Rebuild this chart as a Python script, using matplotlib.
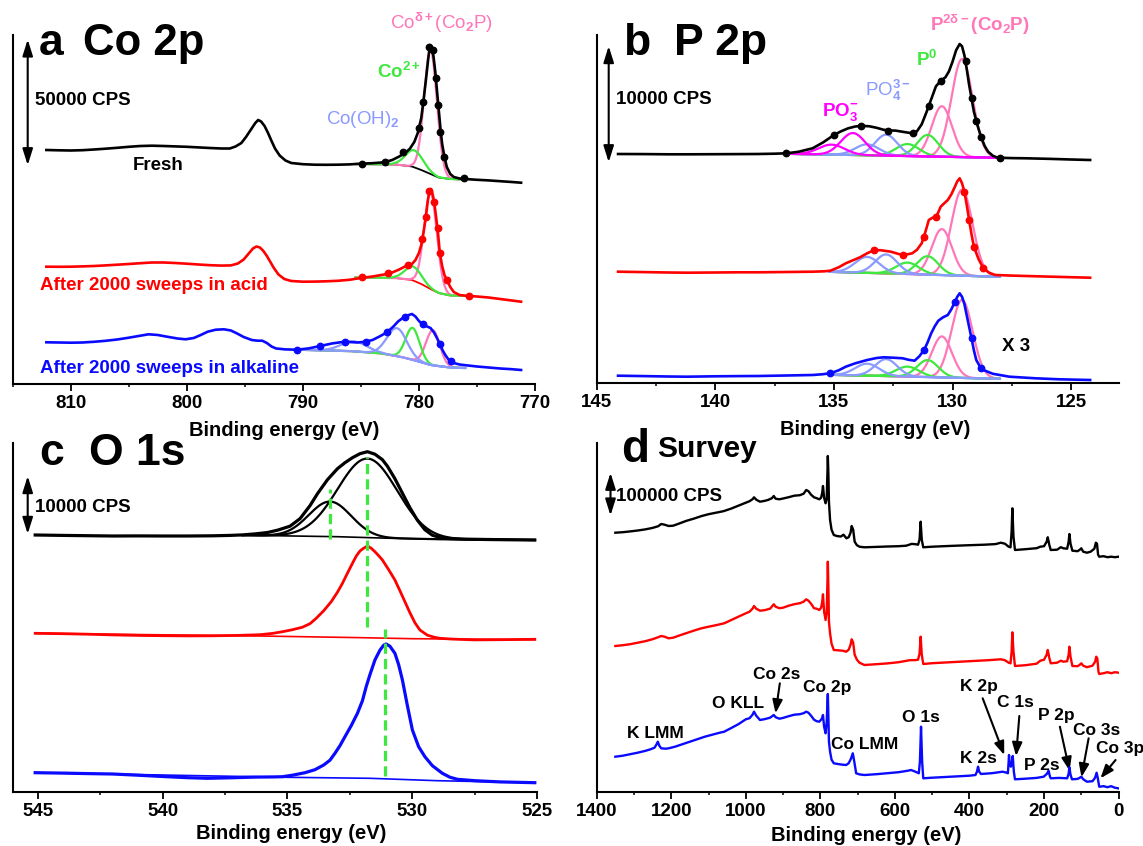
import numpy as np
import matplotlib
matplotlib.use("Agg")
import matplotlib.pyplot as plt
from matplotlib.patches import FancyArrowPatch
from matplotlib.ticker import MultipleLocator, FixedLocator

plt.rcParams['font.family'] = ['Liberation Sans', 'DejaVu Sans']
plt.rcParams['font.weight'] = 'bold'
plt.rcParams['mathtext.fontset'] = 'custom'
plt.rcParams['mathtext.rm'] = 'Liberation Sans'
plt.rcParams['mathtext.bf'] = 'Liberation Sans:bold'
plt.rcParams['mathtext.it'] = 'Liberation Sans:italic'

# ---------------- colours ----------------
C_BLACK = '#000000'
C_RED = '#ff0000'
C_BLUE = '#0a0aff'
C_PINK = '#ff77b9'
C_GREEN = '#3fe83f'
C_LAV = '#8a9aff'
C_MAG = '#ff00ff'

# ================= Panel a : Co 2p (binding energy eV, intensity a.u.) =================
a_fresh_be = [812.1, 811, 810, 809, 808, 807, 806, 805, 804, 803, 802, 801, 800, 799, 798, 797, 796.3,
              795.8, 795.3, 794.9, 794.5, 794.1, 793.85, 793.6, 793.3, 793.0, 792.7, 792.4, 792.0,
              791.5, 791.0, 790, 789, 788, 787, 786, 785, 784, 783, 782.3, 781.7, 781.2, 780.8,
              780.4, 780.1, 779.8, 779.6, 779.4, 779.2, 779.05, 778.9, 778.75, 778.6, 778.45, 778.3,
              778.15, 778.0, 777.8, 777.6, 777.3, 777.0, 776.5, 776, 775, 774, 773, 772, 771.2]
a_fresh_h = [234, 233.7, 233.5, 233.8, 234.5, 235.3, 236.2, 237.2, 238, 238.3, 238, 237.6, 237.2, 236.6,
             236, 235.5, 235.5, 237.5, 241, 247, 254, 261, 264, 262.5, 258, 251, 243, 235.5, 228.5,
             223.5, 221, 219.8, 219.3, 219.2, 219.3, 219.6, 220.3, 220.8, 221.7, 224, 227.5, 231, 235,
             242, 251, 266, 284, 304, 325, 339, 337, 328, 313, 294, 275,
             256, 240, 227, 217, 210, 207, 205.5, 205, 204.2, 203.6, 202.8, 202, 201.3]
a_acid_be = [812.1, 811, 810, 809, 808, 807, 806, 805, 804, 803, 802, 801, 800, 799, 798, 797, 796.2,
             795.6, 795.1, 794.7, 794.3, 794.0, 793.7, 793.4, 793.1, 792.8, 792.5, 792.1, 791.6, 791,
             790, 789, 788, 787, 786, 785, 784, 783, 782.3, 781.7, 781.2, 780.9, 780.6, 780.3, 780.0,
             779.8, 779.6, 779.4, 779.25, 779.1, 778.95, 778.8, 778.65, 778.5, 778.35, 778.2, 778.0,
             777.8, 777.6, 777.3, 777.0, 776.5, 776, 775, 774, 773, 772, 771.2]
a_acid_h = [117.3, 117.2, 117.3, 117.6, 118, 118.6, 119.3, 120, 120.8, 121.5, 121.5, 121, 120.3, 119.5,
            118.8, 118.4, 118.6, 120.5, 124.5, 130, 135.5, 137.5, 136.5, 133, 128, 122, 116, 109.5,
            105, 103, 102.3, 102.4, 102.7, 103.2, 104.2, 106, 107.5, 109.5, 111.5, 114.5, 117.5,
            119, 120, 124, 131, 139, 152, 167, 182, 193, 195, 189, 179, 165, 150, 131, 118,
            109, 104, 97, 92, 89, 88.3, 87.5, 86.5, 85, 83.5, 82.3]
a_alk_be = [812.1, 811, 810, 809, 808, 807, 806, 805, 804, 803.3, 802.5, 801.7, 800.8, 800.1, 799.4,
            798.8, 798.2, 797.5, 796.8, 796.2, 795.7, 795.1, 794.4, 793.9, 793.5, 793.1, 792.7,
            792.3, 791.5, 790.5, 789.5, 788.5, 787.5, 786.6, 786.0, 785.3, 784.6, 784.0, 783.4,
            782.75, 782.2, 781.8, 781.4, 781.0, 780.6, 780.3, 780.0, 779.65, 779.3, 779.0, 778.7,
            778.45, 778.2, 777.95, 777.7, 777.45, 777.25, 777.0, 776.5, 776, 775, 774, 773, 772, 771.2]
a_alk_h = [41.7, 41.5, 41.3, 41.5, 42.2, 43.2, 44.5, 46.3, 48.3, 49.7, 49, 47.3, 45.5, 44.7, 46,
           49, 52.3, 54.3, 54.7, 53.5, 50.7, 47, 44, 43.3, 43.3, 41, 37.5,
           35.5, 34.6, 34.3, 35.6, 38, 40.5, 42, 42, 41.5, 42.3, 44, 47.5,
           51.7, 57.5, 62.5, 66, 68.5, 70, 67.5, 63, 59.5, 57.5, 56, 51.5,
           46, 40, 33.5, 28.5, 24.5, 22.5, 21, 19.5, 18.8, 17.5, 16.5, 15.5, 14.8, 14]

a_fresh_dot_be = [784.9, 782.9, 781.4, 780.0, 779.65, 779.1, 778.8, 778.55, 778.35, 778.2, 777.8, 776.1]
a_fresh_dot_h = [220, 221.7, 232.3, 255.7, 282.3, 337.3, 334, 305.7, 279, 252.3, 227.3, 206.3]
a_acid_dot_be = [784.9, 782.7, 780.9, 779.7, 779.4, 779.1, 778.7, 778.4, 778.2, 777.6, 775.7]
a_acid_dot_h = [106.7, 110.7, 119, 145, 167, 193, 182.3, 155.7, 131, 104, 88]
a_alk_dot_be = [790.5, 788.5, 786.35, 784.6, 782.75, 781.2, 779.65, 778.2, 777.25]
a_alk_dot_h = [34.3, 38, 41.7, 42.3, 51.7, 67.3, 59.5, 40, 22.5]

# backgrounds (Shirley) of the fits
a_fresh_bg_be = [785.5, 782.0, 780.6, 779.8, 779.0, 778.3, 777.3, 776.0]
a_fresh_bg_h = [220, 219.5, 217.5, 214, 210, 206.5, 205, 204.5]
a_acid_bg_be = [785.5, 782.0, 780.6, 779.8, 779.0, 778.3, 777.3, 775.5]
a_acid_bg_h = [106.5, 106, 104, 100, 95, 91, 88.5, 88]
a_alk_bg_be = [790.5, 786.0, 783.3, 781.5, 780.5, 779.0, 777.7, 777.0, 776.0]
a_alk_bg_h = [34.3, 33, 30.7, 27, 24, 19, 17, 16.3, 16]

# fitted components: centre (eV), height above background, FWHM (eV), species
a_fresh_cen = [779.0, 780.4]
a_fresh_amp = [124, 17]
a_fresh_fw = [1.3, 1.8]
a_fresh_sp = ['Co2P', 'Co2+']
a_acid_cen = [779.0, 780.5]
a_acid_amp = [96, 14]
a_acid_fw = [1.3, 1.7]
a_acid_sp = ['Co2P', 'Co2+']
a_alk_cen = [778.8, 780.55, 781.9, 785.6]
a_alk_amp = [35, 32, 28, 10]
a_alk_fw = [1.4, 1.4, 2.0, 2.6]
a_alk_sp = ['Co2P', 'Co2+', 'CoOH', 'CoOH']

# ================= Panel b : P 2p =================
b_fresh_be = [144.1, 143, 142, 141, 140, 139, 138.2, 137.5, 137.0, 136.5, 135.9, 135.45, 135.0, 134.7,
              134.4, 134.1, 133.85, 133.5, 133.2, 132.9, 132.6, 132.4, 132.1, 131.7, 131.5, 131.3,
              131.1, 130.9, 130.7, 130.5, 130.3, 130.15, 130.0, 129.85, 129.7, 129.6, 129.5, 129.4,
              129.3, 129.2, 129.1, 128.95, 128.8, 128.65, 128.5, 128.3, 128.1, 127.5, 126.9, 126,
              125, 124.2]
b_fresh_h = [229.3, 229.2, 229, 229, 229.1, 229.2, 229.3, 229.6, 230, 231.5, 235, 241, 248.3, 252,
             255, 256.8, 257.5, 257, 255.5, 253.5, 252.8, 252.7, 251.5, 250, 252, 259,
             271, 284, 297, 302.5, 306, 312, 321.6, 333, 339.3, 337, 328, 314,
             298.3, 285, 271.6, 258, 246.6, 237.5, 231.6, 227.5, 225.6, 225.2, 225, 224.5,
             223.8, 223.3]
b_acid_be = [144.1, 143, 142, 141.2, 140, 139, 138.2, 137, 135.9, 135.4, 135.15, 134.8, 134.5, 134.2,
             133.9, 133.6, 133.3, 133.0, 132.6, 132.3, 132.1, 131.9, 131.7, 131.5, 131.3, 131.15,
             131.0, 130.85, 130.7, 130.6, 130.5, 130.35, 130.2, 130.05, 129.9, 129.8, 129.7, 129.6,
             129.5, 129.4, 129.3, 129.2, 129.1, 128.9, 128.7, 128.45, 128.2, 127.5, 126.9, 125.5, 124.2]
b_acid_h = [111.6, 111.2, 110.8, 110.6, 110.8, 111, 111, 111.3, 111.6, 112, 112.6, 116, 120, 123,
            126, 130, 133.3, 133, 131.6, 129.5, 128.3, 129, 130, 133.5, 140, 151,
            163.3, 165.5, 166.6, 171, 176.6, 180, 183.3, 189, 196.6, 202, 205, 200,
            191.6, 178, 163.3, 149, 136.6, 124, 115, 110.5, 108.3, 107.7, 107.3, 106.4, 105.6]
b_alk_be = [144.1, 143, 142, 141.2, 140, 139, 138.2, 137, 135.9, 135.5, 135.15, 134.8, 134.5, 134.1,
            133.6, 133.2, 132.9, 132.5, 132.1, 131.85, 131.6, 131.4, 131.2, 131.05, 130.9, 130.75,
            130.6, 130.4, 130.2, 130.05, 129.9, 129.8, 129.7, 129.6, 129.5, 129.35, 129.2, 129.1,
            129.0, 128.85, 128.7, 128.3, 127.6, 126.5, 125.5, 124.2]
b_alk_h = [7.6, 7.2, 6.8, 6.6, 7, 7.2, 7.3, 7.8, 8.3, 9, 10, 13, 16.6, 20,
           23.3, 25.3, 26, 25.6, 25, 23.5, 22.6, 27, 33.3, 41, 50, 57,
           62.6, 66, 68.3, 74, 81.6, 86.5, 90, 86.5, 79.3, 62, 45, 33,
           23.3, 17, 13.3, 9.5, 6.6, 5, 4, 3.3]

b_fresh_dot_be = [137.0, 135.0, 133.85, 132.7, 131.65, 131.0, 130.5, 129.45, 129.2, 129.0, 128.8, 128.0]
b_fresh_dot_h = [230, 248.3, 257.3, 252.6, 250, 277, 302.5, 322, 285, 262, 246.6, 225.5]
b_acid_dot_be = [133.3, 132.1, 131.2, 130.7, 129.5, 129.3, 129.1, 128.7]
b_acid_dot_h = [133.3, 128.3, 146, 166.6, 191.6, 163.3, 136.6, 115]
b_alk_dot_be = [135.15, 131.2, 129.9, 129.2, 128.8]
b_alk_dot_h = [10, 33.3, 81.6, 45, 15.5]

b_fresh_bg_be = [137.0, 128.0]
b_fresh_bg_h = [229.5, 225.5]
b_acid_bg_be = [135.2, 128.0]
b_acid_bg_h = [111.5, 106.5]
b_alk_bg_be = [135.2, 128.0]
b_alk_bg_h = [8.5, 4.5]

b_cen = [129.6, 130.45, 131.05, 131.9, 132.8, 133.6, 134.2, 135.1]
b_sp = ['P2P', 'P2P', 'P0', 'P0', 'PO4', 'PO4', 'PO3', 'PO3']
b_fw = [1.05, 1.0, 1.05, 1.15, 1.1, 1.2, 1.2, 1.3]
b_fresh_amp = [98, 50.5, 21.5, 12, 21, 11, 22, 10]
b_acid_amp = [86, 46, 18.5, 11.5, 19, 16, 0, 0]
b_alk_amp = [78, 41, 17, 10, 17, 12, 0, 0]

# ================= Panel c : O 1s =================
c_fresh_be = [545.1, 544, 543, 542, 541, 540, 539, 538, 537.3, 536.8, 536.3, 535.8, 535.4, 534.9, 534.5,
              534.1, 533.8, 533.4, 533.0, 532.7, 532.4, 532.1, 531.8, 531.5, 531.2, 531.0, 530.7,
              530.4, 530.1, 529.8, 529.5, 529.2, 528.8, 528, 527, 526, 525.1]
c_fresh_h = [256.7, 256.3, 256, 255.7, 255.8, 255.7, 255.7, 255.9, 256.3, 256.8, 257.8, 259.2, 261.5,
             265.5, 273, 286, 298, 312, 323, 329, 334, 338, 340, 337.5, 332, 325.5, 313,
             298.5, 284, 271.5, 262, 256.5, 253.5, 252.6, 252.2, 251.9, 251.7]
c_acid_be = [545.1, 544, 543, 542, 541, 540, 539, 538, 537, 536.1, 535.6, 535.2, 534.8, 534.4, 534.1,
             533.85, 533.55, 533.25, 533.0, 532.8, 532.6, 532.4, 532.25, 532.1, 531.95, 531.8, 531.65,
             531.5, 531.35, 531.2, 530.95, 530.7, 530.5, 530.3, 530.1, 529.9, 529.7, 529.4, 529.1,
             528.9, 528.4, 527.5, 526.5, 525.1]
c_acid_h = [158.4, 158, 157.5, 156.8, 156.3, 156, 155.8, 155.9, 156.3, 157, 158.3, 160, 162, 164.5, 168,
            173.4, 181, 190, 199.5, 208.4, 218.5, 228.4, 235.5, 240.7, 243.5, 245.7, 243.5,
            240, 236, 231.7, 222, 211.7, 201, 190, 179, 169, 161.7, 156.5, 154.3,
            153.4, 152.6, 151.8, 152, 152.4]
c_alk_be = [545.1, 544, 543, 542, 541, 540, 539, 538.2, 537.3, 536.3, 535.5, 535.2, 534.8, 534.3, 533.9,
            533.55, 533.3, 533.1, 532.9, 532.7, 532.45, 532.2, 532.0, 531.85, 531.7, 531.5, 531.3,
            531.15, 531.05, 530.9, 530.7, 530.55, 530.4, 530.2, 530.0, 529.75, 529.5, 529.2, 528.8,
            528.5, 528.2, 527.5, 526.5, 525.1]
c_alk_h = [19, 18.6, 18.1, 17.7, 16.5, 15.2, 14, 13.4, 13.9, 14.6, 14.8, 15, 16.5, 19, 22,
           26.7, 31.5, 38.4, 46, 55, 66, 78.4, 91, 105, 117, 131.7, 141.5,
           146.5, 147.7, 145.5, 138.4, 127, 111.7, 86, 61.7, 45, 35, 26, 18.4,
           14.5, 12.4, 11, 9.8, 9]

c_fresh_bg_be = [536.8, 533.0, 531.0, 529.0, 525.1]
c_fresh_bg_h = [256.5, 255, 253.5, 252.5, 251.7]
c_acid_bg_be = [545.1, 536.1, 532.0, 530.0, 525.1]
c_acid_bg_h = [158.4, 155.7, 154, 153, 152]
c_alk_bg_be = [545.1, 535.0, 531.7, 529.0, 525.1]
c_alk_bg_h = [19, 14.4, 13.4, 11, 9]

c_fresh_cen = [533.3, 531.8]
c_fresh_amp = [35, 79]
c_fresh_fw = [2.0, 2.8]

# dashed marker lines: position (eV), top, bottom
c_mark_be = [533.3, 531.8, 531.1]
c_mark_top = [302.4, 335, 162.4]
c_mark_bot = [252.4, 165, 15.7]

# ================= Panel d : survey =================
d_fresh_be = [1350, 1330, 1310, 1290, 1270, 1250, 1235, 1227, 1218, 1207, 1195, 1180, 1160, 1140, 1120,
              1100, 1080, 1060, 1040, 1020, 1000, 990, 982, 978, 972, 962, 950, 940, 930, 925, 920,
              910, 900, 885, 870, 855, 845, 838, 832, 825, 817, 810, 803, 798, 795, 793, 790, 786,
              783, 781, 780, 778.5, 777, 774, 770, 764, 755, 745, 738, 730, 724, 719, 716, 712, 708,
              702, 695, 682, 650, 620, 590, 570, 555, 545, 538, 534, 531, 528, 524, 500, 450, 400,
              360, 330, 316, 305, 295, 290, 287, 285, 282, 278, 250, 220, 210, 200, 193, 190, 186,
              182, 165, 155, 148, 138, 134, 132, 129, 124, 110, 104, 100, 95, 85, 75, 65, 61, 58, 55,
              52, 40, 30, 20, 10, 0]
d_fresh_h = [259, 259.5, 260.3, 261.2, 262.3, 263.8, 265.5, 267.7, 267, 265.7, 266, 268, 270.8, 273, 275.5,
             277.5, 279, 280.5, 283, 286, 289, 290.5, 292.5, 294.4, 292, 290, 290.8, 291.8, 293.5,
             295.7, 293, 292.4, 293.2, 294.5, 296, 296.5, 298, 301.7, 300.5, 297, 294.4, 293.5, 292.4,
             294, 299, 305.7, 294, 288.4, 293, 320, 335.7, 318, 290, 271.7, 262, 256.7, 255.6, 255.2,
             257, 253.4, 254.5, 259, 265.7, 262, 250, 246.5, 245, 244.4, 244.8, 245.2, 245.5, 246,
             247.8, 247.5, 247, 252, 270, 252, 244.4, 245, 245.8, 246.5, 247, 247.6, 249, 248, 245,
             244.4, 260, 283.4, 255, 241.7, 242.5, 243.5, 245, 245.5, 250, 254.4, 247, 241.7, 242,
             244.5, 243.4, 243, 250, 257.7, 248, 241, 240.5, 242, 243.4, 240, 239, 240, 243, 249,
             248, 237, 235, 235.5, 234.5, 235, 234.5, 235]
d_acid_be = [1350, 1330, 1310, 1290, 1270, 1250, 1235, 1227, 1218, 1207, 1195, 1180, 1160, 1140, 1120,
             1100, 1080, 1058, 1040, 1020, 1000, 990, 982, 978, 972, 962, 950, 935, 925, 920, 910,
             900, 885, 870, 855, 845, 838, 832, 825, 817, 810, 803, 798, 795, 793, 790, 786, 783,
             781, 780, 778.5, 777, 774, 770, 764, 750, 740, 731, 724, 719, 716, 712, 708, 702, 695,
             682, 650, 620, 590, 560, 545, 538, 534, 531, 528, 524, 500, 450, 400, 350, 316, 305,
             295, 290, 287, 285, 282, 278, 250, 220, 210, 200, 193, 190, 186, 182, 165, 155, 148,
             138, 134, 132, 129, 124, 110, 104, 100, 95, 85, 70, 63, 60, 57, 54, 52, 40, 30, 20, 10, 0]
d_acid_h = [145.7, 146.5, 147.5, 149, 150.5, 152.5, 154.5, 155.7, 155, 153.4, 154, 156, 158.5, 161,
            163.3, 165, 166.5, 168.4, 171.5, 175, 178.4, 180, 183, 185.7, 183, 181, 181.5, 183, 187.4,
            185, 183.5, 184, 186, 187.5, 188.5, 190, 192.4, 191, 188, 183.5, 183, 181.7, 184, 190,
            197.4, 180, 171.7, 180, 210, 230, 205, 170, 158.4, 148, 141.7, 141.3, 141, 140, 142, 147,
            152.4, 149, 137, 132, 129, 126.7, 127.5, 128.3, 129.5, 131.5, 131.6, 132, 138, 155, 137,
            127.7, 128.5, 129.5, 130.5, 131.5, 132.4, 131.5, 129, 128.4, 140, 159.4, 140, 125.7,
            126.5, 128, 131, 132, 137, 141.7, 134, 128.4, 129, 131, 130, 130.5, 137, 145, 135, 125.7,
            125.5, 127, 128.4, 126, 124.5, 126, 130, 135, 133, 120, 117.7, 118.5, 119.5, 118.5,
            119.5, 119]
d_alk_be = [1350, 1330, 1310, 1290, 1270, 1255, 1245, 1240, 1236, 1232, 1227, 1215, 1207, 1190, 1170,
            1150, 1130, 1110, 1090, 1070, 1058, 1040, 1020, 1000, 990, 982, 978, 972, 962, 950, 935,
            925, 920, 910, 900, 885, 870, 855, 845, 838, 832, 825, 817, 810, 803, 798, 795, 793, 790,
            786, 783, 781, 780, 778.5, 777, 774, 770, 764, 750, 740, 731, 724, 718, 713, 709, 704,
            695, 682, 650, 620, 590, 565, 557, 545, 536, 533, 530, 527, 524, 500, 450, 400, 384, 380,
            377, 374, 369, 340, 311, 300, 297, 295, 294, 292, 289, 286, 284, 281, 278, 250, 220, 201,
            192, 188, 184, 182, 160, 138, 134, 132, 129, 125, 110, 104, 100, 95, 85, 70, 63, 59, 56,
            52, 40, 30, 20, 10, 0]
d_alk_h = [35, 36, 37.5, 39, 40.8, 42.5, 44, 47, 50, 46, 43.4, 43, 43.4, 45, 47.5,
           50, 52.5, 55, 57, 59, 60, 63.5, 67.5, 72.4, 73.5, 77, 80, 76, 71.7, 72.5, 74,
           76.7, 74.5, 73, 73.8, 75.5, 77, 77.5, 78.5, 80, 79, 76, 72, 70.5, 70, 72, 74, 76.7, 65,
           58.4, 70, 90, 97.7, 75, 50, 40, 32, 28.4, 27.5, 27, 26.7, 28.5, 33, 38.4, 30, 18.4,
           17.3, 16.7, 17.5, 18.5, 19.5, 21, 21.7, 20, 18.4, 30, 65, 30, 13.4, 14, 15, 16, 16.7, 20,
           25, 20, 17.7, 18.5, 20, 19, 18.4, 30, 36.7, 28, 25, 30, 35.7, 20, 12.4, 13, 13.8, 15,
           18, 21, 15, 13.4, 13.8, 13.4, 18, 24.4, 17, 12.4, 12.8, 14, 15, 12.5, 10, 10.5, 14, 19, 14,
           5, 5.5, 4.5, 5.5, 4, 3.3]

d_lab_text = ['K LMM', 'O KLL', 'Co 2s', 'Co 2p', 'Co LMM', 'O 1s', 'K 2p', 'C 1s', 'K 2s', 'P 2s',
              'P 2p', 'Co 3s', 'Co 3p']
d_lab_be = [1243, 1022, 916, 781, 680, 530, 374, 276, 377, 207, 166, 60, -5]
d_lab_h = [58.4, 88.4, 117.7, 104, 47.7, 74, 105, 89, 33.4, 26, 76.7, 61.7, 43.4]
d_arrow_from_be = [908.8, 364.6, 266.3, 157.5, 80.4, 8.1]
d_arrow_from_h = [108.4, 93.4, 75.7, 65, 53.4, 31.7]
d_arrow_to_be = [920.3, 306.8, 275, 131.5, 99.7, 48.6]
d_arrow_to_h = [78.4, 36.7, 35.7, 21, 14.4, 13.4]

# ================= figure =================
W, H = 1143, 846
fig = plt.figure(figsize=(W / 100, H / 100), dpi=100)


def axes_px(left, top, right, bottom):
    return fig.add_axes([left / W, 1 - bottom / H, (right - left) / W, (bottom - top) / H])


def ftext(x, y, s, **kw):
    fig.text(x / W, 1 - y / H, s, **kw)


def farrow(x, y0, y1):
    p = FancyArrowPatch((x / W, 1 - y0 / H), (x / W, 1 - y1 / H), transform=fig.transFigure,
                        arrowstyle='<|-|>,head_length=0.7,head_width=0.22', mutation_scale=14,
                        lw=1.5, color='k')
    fig.add_artist(p)


axA = axes_px(12.7, 35, 535, 384)
axB = axes_px(596.7, 35, 1118.6, 383.3)
axC = axes_px(12.7, 443, 537.3, 791.7)
axD = axes_px(596.7, 443, 1118.6, 791.7)

setups = [
    (axA, (815, 770), (0, 349), [810, 800, 790, 780, 770], 5),
    (axB, (145, 123), (0, 348.3), [145, 140, 135, 130, 125], 2.5),
    (axC, (546, 525), (0, 348.7), [545, 540, 535, 530, 525], 2.5),
    (axD, (1400, 0), (0, 348.7), [1400, 1200, 1000, 800, 600, 400, 200, 0], 100),
]
for ax, xl, yl, ticks, minor in setups:
    ax.set_xlim(*xl)
    ax.set_ylim(*yl)
    ax.patch.set_alpha(0)
    for s in ('top', 'right'):
        ax.spines[s].set_visible(False)
    for s in ('left', 'bottom'):
        ax.spines[s].set_linewidth(1.5)
    ax.set_yticks([])
    ax.xaxis.set_major_locator(FixedLocator(ticks))
    ax.xaxis.set_minor_locator(MultipleLocator(minor))
    ax.tick_params(axis='x', which='major', direction='out', length=4.8, width=1.3,
                   labelsize=13.5, pad=3)
    ax.tick_params(axis='x', which='minor', direction='out', length=2.2, width=1.1)
    for lab in ax.get_xticklabels():
        lab.set_fontweight('bold')

SP_COL = {'Co2P': C_PINK, 'Co2+': C_GREEN, 'CoOH': C_LAV,
          'P2P': C_PINK, 'P0': C_GREEN, 'PO4': C_LAV, 'PO3': C_MAG}


def gauss(x, c, a, fw):
    return a * np.exp(-4 * np.log(2) * ((x - c) / fw) ** 2)


def draw_fit(ax, bg_be, bg_h, cen, amp, fw, sp, bg_col):
    x = np.linspace(bg_be[0], bg_be[-1], 500)
    bg = np.interp(x, bg_be[::-1], bg_h[::-1])
    for c, a, w, s in zip(cen, amp, fw, sp):
        if a <= 0:
            continue
        ax.plot(x, bg + gauss(x, c, a, w), color=SP_COL[s], lw=1.6, zorder=3,
                solid_capstyle='round')
    ax.plot(bg_be, bg_h, color=bg_col, lw=1.3, zorder=2)


def draw_data(ax, be, h, col, dot_be=None, dot_h=None, lw=1.9):
    ax.plot(be, h, color=col, lw=lw, zorder=4, solid_joinstyle='round')
    if dot_be is not None:
        ax.plot(dot_be, dot_h, 'o', color=col, ms=4.6, zorder=5)


# ---- panel a ----
draw_fit(axA, a_fresh_bg_be, a_fresh_bg_h, a_fresh_cen, a_fresh_amp, a_fresh_fw, a_fresh_sp, C_BLACK)
draw_fit(axA, a_acid_bg_be, a_acid_bg_h, a_acid_cen, a_acid_amp, a_acid_fw, a_acid_sp, C_RED)
draw_fit(axA, a_alk_bg_be, a_alk_bg_h, a_alk_cen, a_alk_amp, a_alk_fw, a_alk_sp, C_BLUE)
draw_data(axA, a_fresh_be, a_fresh_h, C_BLACK, a_fresh_dot_be, a_fresh_dot_h)
draw_data(axA, a_acid_be, a_acid_h, C_RED, a_acid_dot_be, a_acid_dot_h)
draw_data(axA, a_alk_be, a_alk_h, C_BLUE, a_alk_dot_be, a_alk_dot_h)

# ---- panel b ----
draw_fit(axB, b_fresh_bg_be, b_fresh_bg_h, b_cen, b_fresh_amp, b_fw, b_sp, C_BLACK)
draw_fit(axB, b_acid_bg_be, b_acid_bg_h, b_cen, b_acid_amp, b_fw, b_sp, C_RED)
draw_fit(axB, b_alk_bg_be, b_alk_bg_h, b_cen, b_alk_amp, b_fw, b_sp, C_BLUE)
draw_data(axB, b_fresh_be, b_fresh_h, C_BLACK, b_fresh_dot_be, b_fresh_dot_h)
draw_data(axB, b_acid_be, b_acid_h, C_RED, b_acid_dot_be, b_acid_dot_h)
draw_data(axB, b_alk_be, b_alk_h, C_BLUE, b_alk_dot_be, b_alk_dot_h)

# ---- panel c ----
xc = np.linspace(c_fresh_bg_be[0], c_fresh_bg_be[-1], 500)
bgc = np.interp(xc, c_fresh_bg_be[::-1], c_fresh_bg_h[::-1])
for c, a, w in zip(c_fresh_cen, c_fresh_amp, c_fresh_fw):
    axC.plot(xc, bgc + gauss(xc, c, a, w), color=C_BLACK, lw=1.6, zorder=3)
axC.plot(c_fresh_bg_be, c_fresh_bg_h, color=C_BLACK, lw=1.2, zorder=2)
axC.plot(c_acid_bg_be, c_acid_bg_h, color=C_RED, lw=1.2, zorder=2)
axC.plot(c_alk_bg_be, c_alk_bg_h, color=C_BLUE, lw=1.2, zorder=2)
draw_data(axC, c_fresh_be, c_fresh_h, C_BLACK, lw=2.3)
draw_data(axC, c_acid_be, c_acid_h, C_RED, lw=2.0)
draw_data(axC, c_alk_be, c_alk_h, C_BLUE, lw=2.3)
for xb, t, b in zip(c_mark_be, c_mark_top, c_mark_bot):
    axC.plot([xb, xb], [b, t], color=C_GREEN, lw=2.3, dashes=(3.2, 1.6), zorder=6)

# ---- panel d ----
draw_data(axD, d_fresh_be, d_fresh_h, C_BLACK, lw=1.7)
draw_data(axD, d_acid_be, d_acid_h, C_RED, lw=1.7)
draw_data(axD, d_alk_be, d_alk_h, C_BLUE, lw=1.7)
for s, xb, yh in zip(d_lab_text, d_lab_be, d_lab_h):
    axD.text(xb, yh, s, ha='center', va='center', fontsize=12.5, fontweight='bold', clip_on=False)
for x0, y0, x1, y1 in zip(d_arrow_from_be, d_arrow_from_h, d_arrow_to_be, d_arrow_to_h):
    axD.annotate('', xy=(x1, y1), xytext=(x0, y0),
                 arrowprops=dict(arrowstyle='-|>,head_length=0.8,head_width=0.3', color='k', lw=1.5,
                                 shrinkA=0, shrinkB=0), annotation_clip=False)

# ---------------- texts ----------------
ftext(38.8, 55, 'a', fontsize=32, fontweight='bold', va='baseline')
ftext(83.2, 55, 'Co 2p', fontsize=31.5, fontweight='bold', va='baseline')
ftext(623, 55, 'b', fontsize=32, fontweight='bold', va='baseline')
ftext(674, 55, 'P 2p', fontsize=32, fontweight='bold', va='baseline')
ftext(38.8, 465, 'c', fontsize=32, fontweight='bold', va='baseline')
ftext(88.8, 465, 'O 1s', fontsize=32, fontweight='bold', va='baseline')
ftext(621, 462, 'd', fontsize=33, fontweight='bold', va='baseline')
ftext(657, 457, 'Survey', fontsize=21.5, fontweight='bold', va='baseline')

farrow(27.7, 36.7, 168)
farrow(608.7, 43.3, 165)
farrow(27.7, 473.3, 536.7)
farrow(610.5, 470, 518.3)
ftext(35, 100.7, '50000 CPS', fontsize=13.5, fontweight='bold', va='center')
ftext(616, 100, '10000 CPS', fontsize=13.5, fontweight='bold', va='center')
ftext(35, 507.3, '10000 CPS', fontsize=13.5, fontweight='bold', va='center')
ftext(616, 496, '100000 CPS', fontsize=13.5, fontweight='bold', va='center')

ftext(133, 165.7, 'Fresh', fontsize=13.5, fontweight='bold', va='center')
ftext(40, 285.7, 'After 2000 sweeps in acid', fontsize=13.5, fontweight='bold', va='center', color=C_RED)
ftext(40, 368.3, 'After 2000 sweeps in alkaline', fontsize=13.5, fontweight='bold', va='center',
      color=C_BLUE)
ftext(390, 23, r'Co$^{\mathrm{δ+}}$(Co$_{\mathrm{2}}$P)', fontsize=13.5, fontweight='normal',
      va='center', color=C_PINK)
ftext(377, 71.7, r'Co$^{\mathbf{2+}}$', fontsize=13.5, fontweight='bold', va='center', color=C_GREEN)
ftext(325.6, 120, r'Co(OH)$_{\mathrm{2}}$', fontsize=13.5, fontweight='normal', va='center', color=C_LAV)

ftext(930, 25, r'P$^{\mathbf{2δ−}}$(Co$_{\mathbf{2}}$P)', fontsize=13.5, fontweight='bold',
      va='center', color=C_PINK)
ftext(915.7, 60, r'P$^{\mathbf{0}}$', fontsize=13.5, fontweight='bold', va='center', color=C_GREEN)
ftext(865, 90, r'PO$_{\mathrm{4}}^{\mathrm{3−}}$', fontsize=13.5, fontweight='normal', va='center',
      color=C_LAV)
ftext(822, 111.7, r'PO$_{\mathbf{3}}^{\mathbf{−}}$', fontsize=13.5, fontweight='bold', va='center',
      color=C_MAG)
ftext(1002, 346.7, 'X 3', fontsize=13.5, fontweight='bold', va='center')

for cx, cy in [(284, 430), (875, 429.3), (291, 833), (866, 835)]:
    ftext(cx, cy, 'Binding energy (eV)', fontsize=14.5, fontweight='bold', ha='center', va='center')

fig.savefig('out.png', dpi=100)
